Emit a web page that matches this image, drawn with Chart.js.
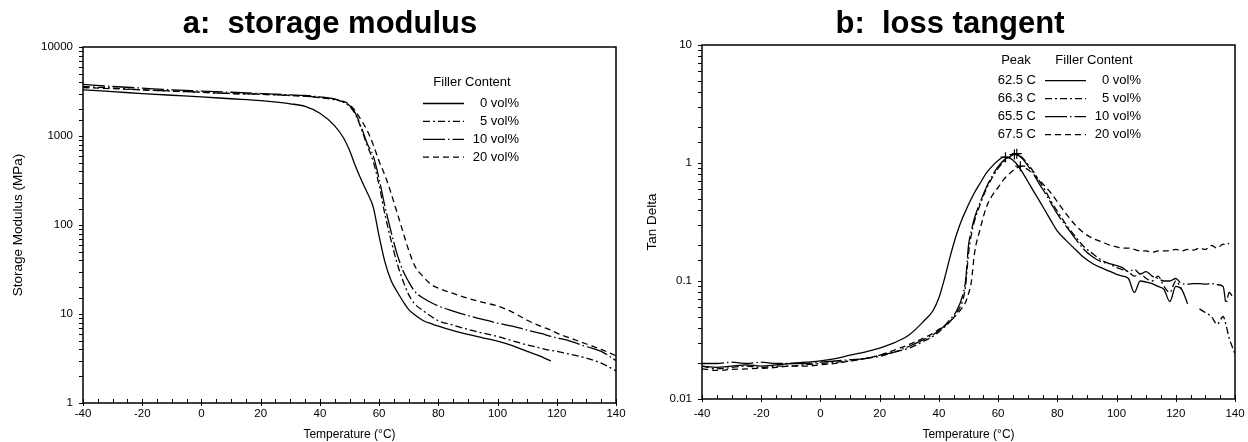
<!DOCTYPE html>
<html lang="en">
<head>
<meta charset="UTF-8">
<title>DMA: storage modulus and loss tangent</title>
<script src="https://cdn.jsdelivr.net/npm/chart.js"></script>
<style>
  body { margin: 0; background: #fff; }
  .panel { position: absolute; top: 0; height: 442px; }
</style>
</head>
<body>
<div class="panel" style="left:0;width:640px"><canvas id="modChart" width="640" height="442"></canvas></div>
<div class="panel" style="left:624px;width:624px"><canvas id="tanChart" width="624" height="442"></canvas></div>

<script>
// ---- data ----
const fillerLabels = ['0 vol%', '5 vol%', '10 vol%', '20 vol%'];
const peakTemps = [62.5, 66.3, 65.5, 67.5];
const peakVals = [1.12, 1.2, 1.18, 0.94];

const xTickLabels = [-40, -20, 0, 20, 40, 60, 80, 100, 120, 140];
const modTickLabels = [1, 10, 100, 1000, 10000];
const tanTickLabels = [0.01, 0.1, 1, 10];

// a: storage modulus (MPa)
const tempA = [-40, -30, -20, -10, 0, 10, 20, 30, 35, 40, 45, 48, 50, 52, 54, 56, 58, 60, 62, 64, 66, 68, 70, 72, 75, 78, 80, 85, 90, 95, 100, 105, 110, 115, 118, 120, 125, 130, 135, 140];
const mod0  = [3300, 3150, 3000, 2870, 2750, 2620, 2500, 2300, 2150, 1800, 1300, 950, 690, 460, 320, 230, 160, 75, 38, 24, 18, 14, 11.2, 9.8, 8.4, 7.7, 7.3, 6.5, 5.9, 5.4, 4.95, 4.4, 3.8, 3.3, 2.95, null, null, null, null, null];
const mod5  = [3600, 3450, 3300, 3200, 3100, 3000, 2950, 2850, 2800, 2700, 2550, 2400, 2150, 1750, 1200, 780, 520, 280, 130, 68, 38, 24, 16.5, 13, 10.8, 9.2, 8.4, 7.5, 6.7, 6.1, 5.6, 5.0, 4.5, 4.1, 3.9, 3.8, 3.5, 3.2, 2.8, 2.3];
const mod10 = [3800, 3600, 3450, 3300, 3200, 3100, 3000, 2900, 2850, 2750, 2600, 2400, 2200, 1800, 1250, 820, 600, 330, 160, 85, 48, 31, 23, 18, 15, 13.2, 12.3, 10.8, 9.6, 8.7, 7.9, 7.3, 6.6, 6.0, 5.6, 5.4, 4.9, 4.3, 3.8, 3.0];
const mod20 = [3500, 3400, 3300, 3200, 3100, 3000, 2950, 2850, 2800, 2700, 2600, 2450, 2250, 1900, 1500, 1150, 800, 520, 360, 230, 140, 85, 52, 35, 26, 21, 19.5, 17, 15, 13.5, 12.3, 10.5, 8.5, 7.2, 6.6, 6.1, 5.3, 4.6, 4.0, 3.4];

// b: loss tangent
const tempB = [-40, -35, -30, -25, -20, -15, -10, -5, 0, 5, 10, 15, 20, 25, 30, 35, 38, 40, 42, 44, 46, 48, 49, 50, 51, 52, 54, 56, 58, 60, 62, 64, 66, 68, 70, 72, 74, 76, 78, 80, 83, 86, 89, 92, 95, 98, 100, 102, 104, 106, 108, 110, 112, 114, 116, 118, 120, 122, 124, 126, 128, 130, 132, 134, 136, 137, 138, 139, 140];
const tan0  = [0.019, 0.0185, 0.019, 0.0195, 0.019, 0.0195, 0.02, 0.0205, 0.021, 0.022, 0.0235, 0.025, 0.027, 0.030, 0.035, 0.046, 0.056, 0.072, 0.107, 0.168, 0.25, 0.343, 0.39, 0.445, 0.5, 0.56, 0.68, 0.82, 0.94, 1.05, 1.12, 1.10, 1.0, 0.85, 0.70, 0.575, 0.475, 0.39, 0.32, 0.265, 0.22, 0.186, 0.158, 0.14, 0.129, 0.12, 0.114, 0.11, 0.105, 0.08, 0.1, 0.098, 0.095, 0.09, 0.085, 0.067, 0.09, 0.085, 0.064, null, null, null, null, null, null, null, null, null, null];
const tan5  = [0.019, 0.018, 0.0185, 0.019, 0.0185, 0.019, 0.019, 0.0195, 0.02, 0.0205, 0.021, 0.022, 0.023, 0.025, 0.027, 0.031, 0.034, 0.037, 0.041, 0.046, 0.054, 0.068, 0.09, 0.17, 0.25, 0.32, 0.45, 0.6, 0.75, 0.9, 1.03, 1.13, 1.19, 1.12, 0.98, 0.84, 0.7, 0.58, 0.47, 0.39, 0.3, 0.24, 0.195, 0.17, 0.15, 0.138, 0.13, 0.125, 0.12, 0.11, 0.115, 0.105, 0.1, 0.11, 0.09, 0.08, 0.1, 0.085, null, null, 0.058, 0.054, 0.05, 0.043, 0.05, 0.042, 0.033, 0.028, 0.024];
const tan10 = [0.02, 0.02, 0.0205, 0.02, 0.0205, 0.02, 0.02, 0.02, 0.0205, 0.021, 0.0215, 0.022, 0.0235, 0.025, 0.028, 0.032, 0.035, 0.038, 0.042, 0.048, 0.056, 0.075, 0.1, 0.2, 0.27, 0.34, 0.47, 0.62, 0.78, 0.93, 1.06, 1.15, 1.18, 1.1, 0.95, 0.8, 0.66, 0.55, 0.45, 0.37, 0.29, 0.23, 0.185, 0.16, 0.145, 0.14, 0.135, 0.13, 0.12, 0.125, 0.115, 0.12, 0.11, 0.105, 0.1, 0.1, 0.105, 0.095, 0.094, 0.095, 0.095, 0.094, 0.095, 0.093, 0.09, 0.065, 0.08, 0.075, null];
const tan20 = [0.018, 0.0175, 0.0178, 0.018, 0.0182, 0.0185, 0.019, 0.019, 0.0195, 0.02, 0.021, 0.022, 0.0235, 0.026, 0.029, 0.033, 0.036, 0.039, 0.042, 0.046, 0.052, 0.06, 0.066, 0.078, 0.1, 0.17, 0.28, 0.42, 0.53, 0.62, 0.73, 0.82, 0.9, 0.94, 0.88, 0.8, 0.71, 0.63, 0.55, 0.47, 0.37, 0.3, 0.255, 0.23, 0.215, 0.2, 0.195, 0.19, 0.19, 0.185, 0.18, 0.18, 0.175, 0.18, 0.18, 0.18, 0.185, 0.18, 0.185, 0.183, 0.19, 0.185, 0.2, 0.19, 0.205, 0.2, 0.21, null, null];

// ---- helpers ----
const lineDash = [[], [7, 3, 2, 3], [22, 3, 1.5, 3], [6, 4]];
const FONT = "'Liberation Sans', Arial, sans-serif";

function series(xs, ys, i) {
  return {
    label: fillerLabels[i],
    data: xs.map((x, k) => ({ x: x, y: ys[k] })),
    borderColor: '#000',
    borderWidth: 1.3,
    borderDash: lineDash[i],
    pointRadius: 0,
    fill: false,
    spanGaps: false,
    cubicInterpolationMode: 'monotone'
  };
}

function hasLabel(list, v) {
  return list.some(l => Math.abs(v - l) <= Math.abs(l) * 1e-6);
}

// frame round the plot area plus tick marks
const frame = {
  id: 'frame',
  afterDatasetsDraw(chart) {
    const { ctx, chartArea: a, scales } = chart;
    ctx.save();
    ctx.strokeStyle = '#000';
    ctx.lineWidth = 1.5;
    ctx.strokeRect(a.left, a.top, a.right - a.left, a.bottom - a.top);
    ctx.lineWidth = 1;
    ctx.beginPath();
    scales.x.ticks.forEach(t => {
      const px = Math.round(scales.x.getPixelForValue(t.value)) + 0.5;
      const major = hasLabel(xTickLabels, t.value);
      ctx.moveTo(px, a.bottom + (major ? 3 : 0));
      ctx.lineTo(px, a.bottom - 4);
    });
    scales.y.ticks.forEach(t => {
      const py = Math.round(scales.y.getPixelForValue(t.value)) + 0.5;
      ctx.moveTo(a.left - 4, py);
      ctx.lineTo(a.left, py);
    });
    ctx.stroke();
    ctx.restore();
  }
};

// panel title and the legend inside the plot
const fillerLegend = {
  id: 'fillerLegend',
  afterDraw(chart, args, o) {
    const ctx = chart.ctx;
    ctx.save();
    ctx.fillStyle = '#000';
    ctx.strokeStyle = '#000';
    ctx.font = 'bold 31px ' + FONT;
    ctx.textAlign = 'center';
    ctx.textBaseline = 'alphabetic';
    ctx.fillText(o.title, o.titleX, 33);

    ctx.font = '13px ' + FONT;
    ctx.textBaseline = 'middle';
    ctx.fillText('Filler Content', o.headerX, o.headerY);
    if (o.peakX) ctx.fillText('Peak', o.peakX, o.headerY);
    for (let i = 0; i < fillerLabels.length; i++) {
      const ds = chart.data.datasets[i];
      const y = o.rowY + i * o.rowGap;
      ctx.lineWidth = 1.3;
      ctx.setLineDash(ds.borderDash);
      ctx.beginPath();
      ctx.moveTo(o.lineX0, y);
      ctx.lineTo(o.lineX1, y);
      ctx.stroke();
      ctx.setLineDash([]);
      ctx.textAlign = 'right';
      ctx.fillText(ds.label, o.labelRight, y);
      if (o.peakRight) ctx.fillText(peakTemps[i].toFixed(1) + ' C', o.peakRight, y);
    }
    ctx.restore();
  }
};

function xAxis(h, pad) {
  return {
    type: 'linear', min: -40, max: 140,
    grid: { display: false, drawTicks: false, tickLength: 0 }, border: { display: false },
    ticks: {
      stepSize: 5, autoSkip: false, maxRotation: 0, padding: pad,
      color: '#000', font: { family: FONT, size: 11.5 },
      callback: v => hasLabel(xTickLabels, v) ? String(v) : ''
    },
    title: { display: true, text: 'Temperature (°C)', color: '#000', font: { family: FONT, size: 12 }, padding: { top: 0, bottom: 0 } },
    afterFit: s => { s.height = h; s.paddingLeft = 0; s.paddingRight = 0; }
  };
}

function yAxis(min, max, labels, title, w, tpad) {
  return {
    type: 'logarithmic', min: min, max: max,
    grid: { display: false, drawTicks: false, tickLength: 0 }, border: { display: false },
    ticks: {
      autoSkip: false, padding: 10,
      color: '#000', font: { family: FONT, size: 11.5 },
      callback: v => hasLabel(labels, v) ? String(v) : ''
    },
    title: { display: true, text: title, color: '#000', font: { family: FONT, size: 13.5 }, padding: { top: tpad, bottom: 0 } },
    afterFit: s => { s.width = w; }
  };
}

new Chart(document.getElementById('modChart'), {
  type: 'line',
  data: { datasets: [series(tempA, mod0, 0), series(tempA, mod5, 1), series(tempA, mod10, 2), series(tempA, mod20, 3)] },
  options: {
    responsive: false, animation: false, devicePixelRatio: 1,
    layout: { padding: { left: 0, right: 24, top: 47, bottom: 0 } },
    scales: {
      x: xAxis(39, 4),
      y: yAxis(1, 10000, modTickLabels, 'Storage Modulus (MPa)', 83, 10)
    },
    plugins: {
      legend: { display: false }, tooltip: { enabled: false }, title: { display: false },
      fillerLegend: { title: 'a:  storage modulus', titleX: 330, headerX: 472, headerY: 82, rowY: 103.5, rowGap: 17.9, lineX0: 423, lineX1: 464, labelRight: 519 }
    }
  },
  plugins: [frame, fillerLegend]
});

const peakSet = {
  type: 'scatter', label: 'peak',
  data: peakTemps.map((t, i) => ({ x: t, y: peakVals[i] })),
  pointStyle: 'cross', pointRadius: 5, borderColor: '#000', borderWidth: 1.2, showLine: false
};

new Chart(document.getElementById('tanChart'), {
  type: 'line',
  data: { datasets: [series(tempB, tan0, 0), series(tempB, tan5, 1), series(tempB, tan10, 2), series(tempB, tan20, 3), peakSet] },
  options: {
    responsive: false, animation: false, devicePixelRatio: 1,
    layout: { padding: { left: 0, right: 13, top: 45, bottom: 0 } },
    scales: {
      x: xAxis(43, 8),
      y: yAxis(0.01, 10, tanTickLabels, 'Tan Delta', 78, 20)
    },
    plugins: {
      legend: { display: false }, tooltip: { enabled: false }, title: { display: false },
      fillerLegend: { title: 'b:  loss tangent', titleX: 326, headerX: 470, headerY: 60, peakX: 392, peakRight: 412, rowY: 80.6, rowGap: 18, lineX0: 421, lineX1: 462, labelRight: 517 }
    }
  },
  plugins: [frame, fillerLegend]
});
</script>
</body>
</html>
